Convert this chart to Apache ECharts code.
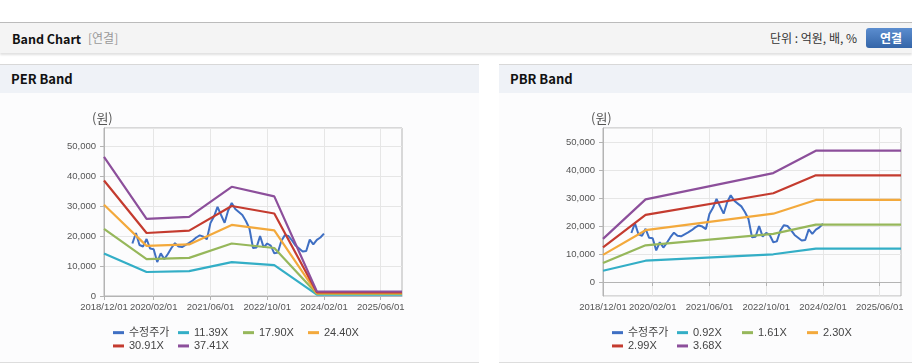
<!DOCTYPE html>
<html>
<head>
<meta charset="utf-8">
<script src="https://cdn.jsdelivr.net/npm/echarts@6/dist/echarts.min.js"></script>
<style>
  html, body { margin: 0; padding: 0; background: #fff; width: 912px; height: 364px; overflow: hidden; }
  body { position: relative; font-family: 'Noto Sans CJK KR', 'Liberation Sans', sans-serif; }
  .topbar { position: absolute; left: 0; top: 22px; width: 912px; height: 30px; background: #f4f4f4;
    border-top: 1px solid #bbb; box-shadow: 0 2px 2px rgba(0,0,0,0.12); }
  .topbar .title { position: absolute; left: 12px; top: 6px; font-size: 12.5px; font-weight: bold; color: #111; }
  .topbar .sub { position: absolute; left: 88px; top: 6px; font-size: 12px; color: #999; }
  .topbar .unit { position: absolute; left: 770px; top: 6px; font-size: 12px; color: #333; }
  .topbar .btn { position: absolute; left: 866px; top: 5px; width: 54px; height: 20px; border-radius: 3px;
    background: linear-gradient(#5b8dcf, #3465a8); color: #fff; font-size: 12px; font-weight: bold;
    line-height: 20px; text-indent: 14px; }
  .panel { position: absolute; top: 64px; height: 297px; background: #fcfcfd;
    border-top: 1px solid #d8d8d8; border-bottom: 1px solid #ddd; }
  .panel .head { height: 28px; background: #eff2f7; font-size: 13px; font-weight: bold; color: #111;
    line-height: 28px; padding-left: 11px; }
  .chart { position: absolute; left: 0; top: 28px; height: 268px; }
</style>
</head>
<body>
<div class="topbar">
  <span class="title">Band Chart</span>
  <span class="sub">[연결]</span>
  <span class="unit">단위 : 억원, 배, %</span>
  <span class="btn">연결</span>
</div>
<div class="panel" style="left:0;width:479px">
  <div class="head">PER Band</div>
  <div id="per" class="chart" style="width:479px"></div>
</div>
<div class="panel" style="left:499px;width:413px">
  <div class="head">PBR Band</div>
  <div id="pbr" class="chart" style="width:413px"></div>
</div>
<script>
const months = [
  '2018/12/01',
  '2019/01/01','2019/02/01','2019/03/01','2019/04/01','2019/05/01','2019/06/01',
  '2019/07/01','2019/08/01','2019/09/01','2019/10/01','2019/11/01','2019/12/01',
  '2020/01/01','2020/02/01','2020/03/01','2020/04/01','2020/05/01','2020/06/01',
  '2020/07/01','2020/08/01','2020/09/01','2020/10/01','2020/11/01','2020/12/01',
  '2021/01/01','2021/02/01','2021/03/01','2021/04/01','2021/05/01','2021/06/01',
  '2021/07/01','2021/08/01','2021/09/01','2021/10/01','2021/11/01','2021/12/01',
  '2022/01/01','2022/02/01','2022/03/01','2022/04/01','2022/05/01','2022/06/01',
  '2022/07/01','2022/08/01','2022/09/01','2022/10/01','2022/11/01','2022/12/01',
  '2023/01/01','2023/02/01','2023/03/01','2023/04/01','2023/05/01','2023/06/01',
  '2023/07/01','2023/08/01','2023/09/01','2023/10/01','2023/11/01','2023/12/01',
  '2024/01/01','2024/02/01','2024/03/01','2024/04/01','2024/05/01','2024/06/01',
  '2024/07/01','2024/08/01','2024/09/01','2024/10/01','2024/11/01','2024/12/01',
  '2025/01/01','2025/02/01','2025/03/01','2025/04/01','2025/05/01','2025/06/01',
  '2025/07/01','2025/08/01','2025/09/01','2025/10/01','2025/11/01','2025/12/01'
]
const tickLabels = ['2018/12/01', '2020/02/01', '2021/06/01', '2022/10/01', '2024/02/01', '2025/06/01']

// 수정주가 (월별)
const price = [
  ['2019/08/01', 17500], ['2019/09/01', 21000], ['2019/10/01', 17000], ['2019/11/01', 16500],
  ['2019/12/01', 19000], ['2020/01/01', 15800], ['2020/02/01', 15600], ['2020/03/01', 11300],
  ['2020/04/01', 14200], ['2020/05/01', 12300], ['2020/06/01', 14000], ['2020/07/01', 16000],
  ['2020/08/01', 17600], ['2020/09/01', 16500], ['2020/10/01', 16300], ['2020/11/01', 17000],
  ['2020/12/01', 17700], ['2021/01/01', 18500], ['2021/02/01', 19500], ['2021/03/01', 20200],
  ['2021/04/01', 19800], ['2021/05/01', 18900], ['2021/06/01', 24300], ['2021/07/01', 26500],
  ['2021/08/01', 29700], ['2021/09/01', 27000], ['2021/10/01', 24400], ['2021/11/01', 28500],
  ['2021/12/01', 31000], ['2022/01/01', 29000], ['2022/02/01', 28000], ['2022/03/01', 27000],
  ['2022/04/01', 25000], ['2022/05/01', 22500], ['2022/06/01', 16000], ['2022/07/01', 16200],
  ['2022/08/01', 20000], ['2022/09/01', 16200], ['2022/10/01', 17500], ['2022/11/01', 16800],
  ['2022/12/01', 14200], ['2023/01/01', 14500], ['2023/02/01', 18400], ['2023/03/01', 20300],
  ['2023/04/01', 20000], ['2023/05/01', 18500], ['2023/06/01', 16800], ['2023/07/01', 15800],
  ['2023/08/01', 14800], ['2023/09/01', 15000], ['2023/10/01', 18800], ['2023/11/01', 17200],
  ['2023/12/01', 18700], ['2024/01/01', 19500], ['2024/02/01', 20800]
]

// PER 밴드 꺾임점
const perDates = ['2018/12/01', '2019/12/01', '2020/12/01', '2021/12/01', '2022/12/01', '2023/12/01', '2025/12/01']
const perNames = ['11.39X', '17.90X', '24.40X', '30.91X', '37.41X']
const per1139 = [14200, 8000, 8300, 11300, 10300, 460, 460]
const per1790 = [22400, 12300, 12700, 17500, 16000, 720, 720]
const per2440 = [30400, 16700, 17200, 23700, 21900, 980, 980]
const per3091 = [38500, 21000, 21800, 30000, 27500, 1240, 1240]
const per3741 = [46400, 25700, 26400, 36400, 33200, 1500, 1500]

// PBR 밴드 꺾임점
const pbrDates = ['2018/12/01', '2019/12/01', '2022/12/01', '2023/12/01', '2025/12/01']
const pbrNames = ['0.92X', '1.61X', '2.30X', '2.99X', '3.68X']
const pbr092 = [4000, 7600, 9900, 11900, 11900]
const pbr161 = [6800, 13100, 17200, 20500, 20500]
const pbr230 = [9700, 18500, 24400, 29300, 29300]
const pbr299 = [12400, 24000, 31700, 38100, 38100]
const pbr368 = [15400, 29500, 38900, 46900, 46900]

const priceName = '수정주가'
const colors = ['#3f6fc3', '#33aec6', '#96b75b', '#f3a93c', '#c43b2f', '#8c4f9b']

const showTick = (i, v) => tickLabels.indexOf(v) >= 0
const fmt = (v) => v.toLocaleString('en-US')

function bandOption(dates, names, bands, yMin, yMax) {
  const series = [{
    name: priceName, type: 'line', data: price, symbol: 'none',
    lineStyle: { width: 2, color: colors[0] }, itemStyle: { color: colors[0] }
  }]
  bands.forEach((vals, k) => {
    series.push({
      name: names[k], type: 'line', symbol: 'none',
      data: dates.map((d, j) => [d, vals[j]]),
      lineStyle: { width: 2.2, color: colors[k + 1] }, itemStyle: { color: colors[k + 1] }
    })
  })
  return {
    animation: false,
    color: colors,
    title: {
      text: '(원)', left: 87, top: 14,
      textStyle: { fontSize: 13, fontWeight: 'normal', color: '#555', fontFamily: 'Noto Sans CJK KR' }
    },
    grid: { left: 104, top: 35, width: 298, height: 168, show: true, borderColor: '#b4b4b4', borderWidth: 1 },
    legend: {
      left: 108, top: 228, width: 270, itemGap: 0, itemWidth: 11, itemHeight: 3, icon: 'rect',
      textStyle: { fontSize: 11, color: '#444', width: 49, lineHeight: 13.3, fontFamily: 'Liberation Sans, Noto Sans CJK KR' },
      data: [priceName].concat(names)
    },
    xAxis: {
      type: 'category', data: months, boundaryGap: false,
      axisLine: { lineStyle: { color: '#b4b4b4' } },
      axisTick: { interval: showTick, length: 4, lineStyle: { color: '#b4b4b4' } },
      axisLabel: { interval: showTick, color: '#555', fontSize: 9.5, margin: 6, fontFamily: 'Liberation Sans' },
      splitLine: { show: true, interval: showTick, lineStyle: { color: '#e6e6e6' } }
    },
    yAxis: {
      type: 'value', min: yMin, max: yMax,
      axisLine: { show: true, lineStyle: { color: '#b4b4b4' } },
      axisTick: { show: true, length: 4, lineStyle: { color: '#b4b4b4' } },
      axisLabel: {
        color: '#555', fontSize: 9.5, margin: 8, fontFamily: 'Liberation Sans',
        showMinLabel: yMin === 0, showMaxLabel: false,
        formatter: (v) => (v % 10000 === 0 ? fmt(v) : '')
      },
      splitLine: { lineStyle: { color: '#e6e6e6' } }
    },
    series
  }
}

const perChart = echarts.init(document.getElementById('per'))
perChart.setOption(bandOption(perDates, perNames, [per1139, per1790, per2440, per3091, per3741], 0, 56000))

const pbrChart = echarts.init(document.getElementById('pbr'))
pbrChart.setOption(bandOption(pbrDates, pbrNames, [pbr092, pbr161, pbr230, pbr299, pbr368], -5000, 55000))
</script>
</body>
</html>
